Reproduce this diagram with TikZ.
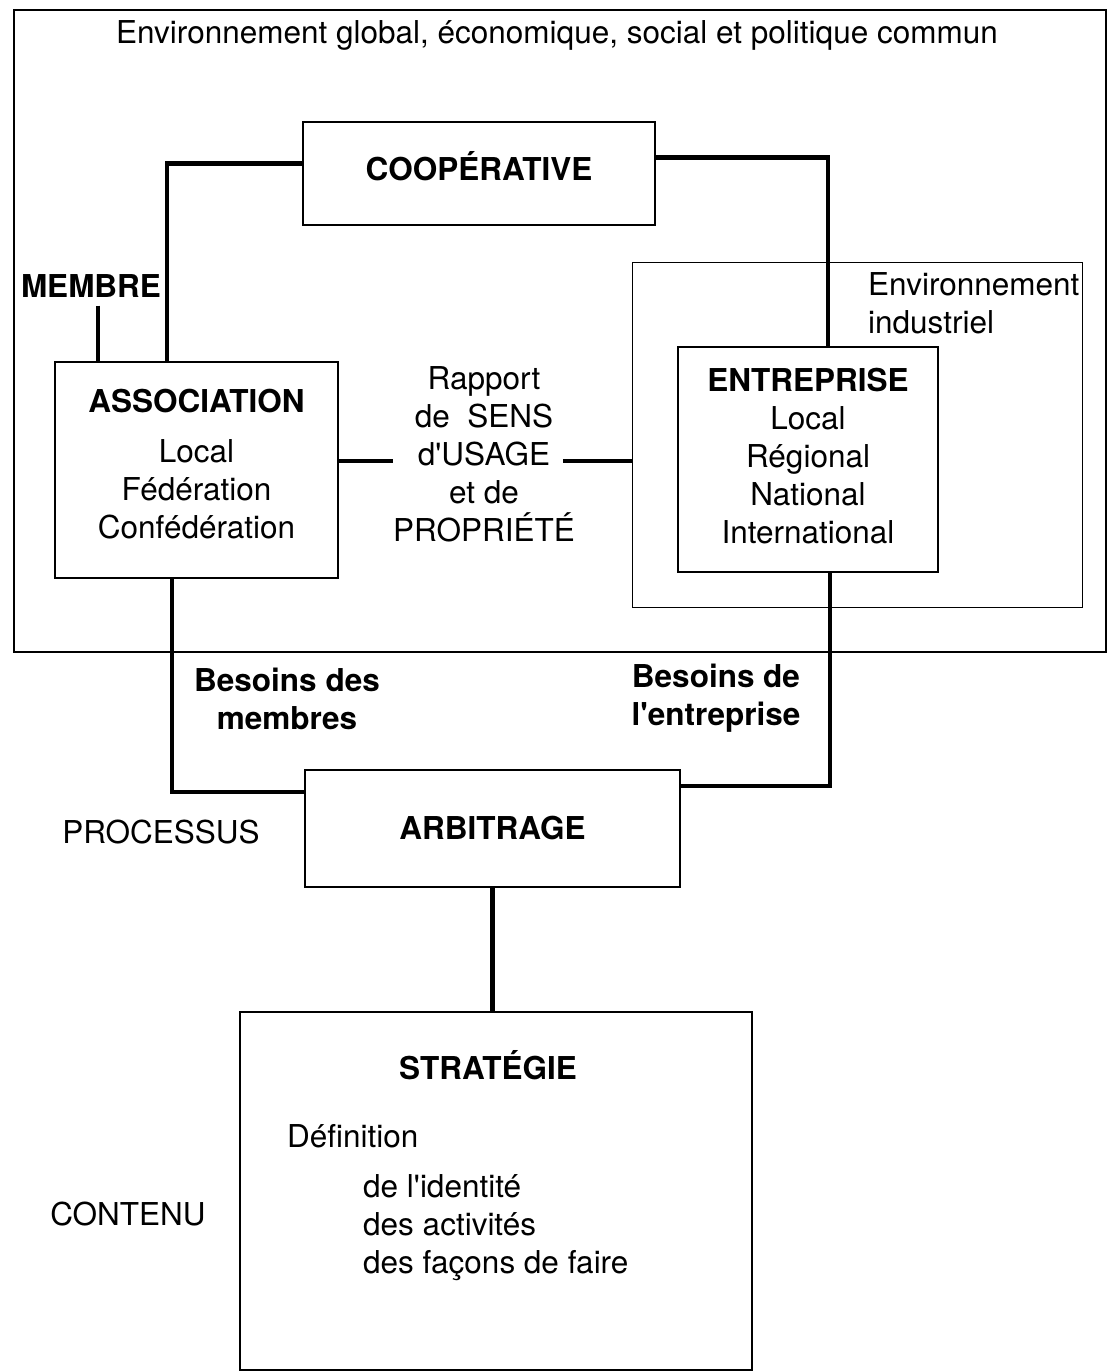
\documentclass[tikz,border=0pt]{standalone}
\usepackage{fontspec}
\setmainfont{TeX Gyre Heros}
\usetikzlibrary{positioning}

\begin{document}
\begin{tikzpicture}[x=1pt,y=-1pt,line join=miter]
    \tikzstyle{every node}=[font=\fontsize{31.5}{38}\selectfont,inner sep=0pt]
    \tikzstyle{box}=[rectangle,draw,line width=2.5pt,align=center]
    \tikzstyle{zone}=[rectangle,draw,line width=1pt]
    \tikzstyle{lien}=[line width=4.5pt]
    \tikzstyle{annot}=[align=center]
    \tikzstyle{titre}=[font=\fontsize{31.5}{38}\selectfont\bfseries]

    \useasboundingbox (0,0) rectangle (1110,1372);

    % Draw the common environment
    \draw[line width=2.5pt] (14,10) rectangle (1106,652);
    \node[annot] (env) at (557,35) {Environnement global, économique, social et politique commun};

    % Draw the industrial environment
    \node[zone, minimum width=450, minimum height=345] (indus) at (857,434.5) {};
    \node[anchor=north west, align=left] (indusT) at (868,272) {Environnement\\industriel};

    % Draw the main boxes
    \node[box, minimum width=352, minimum height=103, text depth=16pt] (coop) at (479,173.5) {\bfseries COOPÉRATIVE};
    \node[box, minimum width=283, minimum height=216, text depth=12pt] (assoc) at (196.5,470)
        {\bfseries ASSOCIATION\\[12pt]Local\\Fédération\\Confédération};
    \node[box, minimum width=260, minimum height=225, fill=white, text depth=8pt] (entr) at (808,459.5)
        {\bfseries ENTREPRISE\\Local\\Régional\\National\\International};
    \node[box, minimum width=375, minimum height=117] (arb) at (492.5,828.5) {\bfseries ARBITRAGE};
    \node[box, minimum width=512, minimum height=358] (strat) at (496,1191) {};

    % Annotate the links
    \node[annot] (rapport) at (484,454.5) {Rapport\\de~~SENS\\d\textquotesingle USAGE\\et de\\PROPRIÉTÉ};
    \node[titre] (membre) at (91,286) {MEMBRE};
    \node[titre, align=center] (besM) at (287,699) {Besoins des\\membres};
    \node[titre, align=center] (besE) at (716,698) {Besoins de\\l\textquotesingle entreprise};
    \node (processus) at (161,832) {PROCESSUS};
    \node (contenu) at (128,1214) {CONTENU};

    % Content of the strategy box
    \node[titre] (stratT) at (488,1065) {STRATÉGIE};
    \node[anchor=west] (defin) at (287,1136) {Définition};
    \node[anchor=west, align=left] (liste) at (363,1228) {de l\textquotesingle identité\\des activités\\des façons de faire};

    % Connect the boxes
    \draw[lien] ([yshift=10pt]coop.west) -| ([xshift=-29.5pt]assoc.north);
    \draw[lien] ([yshift=16pt]coop.east) -| ([xshift=20pt]entr.north);
    \coordinate (m) at ([xshift=7pt,yshift=-8pt]membre.south);
    \draw[lien] (m) -- (m |- assoc.north);
    \coordinate (aE) at ([yshift=9pt]assoc.east);
    \draw[lien] (aE) -- (aE -| rapport.west);
    \draw[lien] ([xshift=-12pt]rapport.east |- aE) -- (aE -| indus.west);
    \draw[lien] ([xshift=-24.5pt]assoc.south) |- ([yshift=36.5pt]arb.west);
    \draw[lien] ([xshift=22pt]entr.south) |- ([yshift=42.5pt]arb.east);
    \draw[lien] (arb.south) -- (arb.south |- strat.north);

\end{tikzpicture}
\end{document}
